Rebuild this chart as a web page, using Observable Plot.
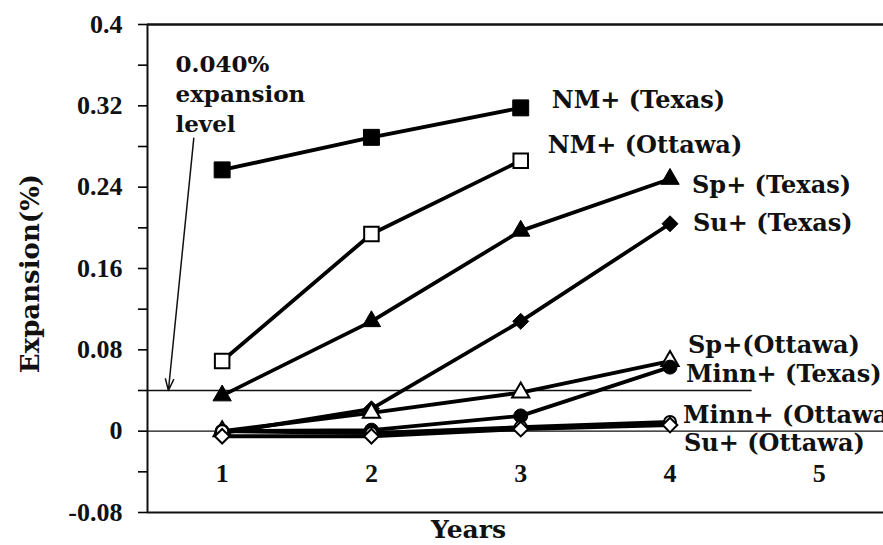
<!DOCTYPE html>
<html>
<head>
<meta charset="utf-8">
<script src="https://cdn.jsdelivr.net/npm/d3@7"></script>
<script src="https://cdn.jsdelivr.net/npm/@observablehq/plot@0.6"></script>
<style>
  html, body { margin: 0; padding: 0; background: #fff; overflow: hidden; }
</style>
</head>
<body>
<div id="chart"></div>
<script>
// Expansion (%) of concrete prisms over time, by aggregate and curing site
const years = [1, 2, 3, 4];
const nmTexas    = [0.257, 0.289, 0.318];
const nmOttawa   = [0.069, 0.194, 0.266];
const spTexas    = [0.035, 0.108, 0.197, 0.248];
const suTexas    = [-0.002, 0.022, 0.108, 0.204];
const spOttawa   = [0.000, 0.018, 0.038, 0.069];
const minnTexas  = [0.000, 0.001, 0.015, 0.063];
const minnOttawa = [0.000, -0.002, 0.004, 0.009];
const suOttawa   = [-0.005, -0.005, 0.002, 0.006];

const seriesNames = [
  "NM+ (Texas)", "NM+ (Ottawa)", "Sp+ (Texas)", "Su+ (Texas)",
  "Sp+(Ottawa)", "Minn+ (Texas)", "Minn+ (Ottawa)", "Su+ (Ottawa)"
];
const seriesValues = [nmTexas, nmOttawa, spTexas, suTexas, spOttawa, minnTexas, minnOttawa, suOttawa];

const yTicks = [-0.08, 0, 0.08, 0.16, 0.24, 0.32, 0.4];
const yTickLabels = ["-0.08", "0", "0.08", "0.16", "0.24", "0.32", "0.4"];
const yMinorTicks = [-0.04, 0.04, 0.12, 0.2, 0.28, 0.36];
const xTicks = [1, 2, 3, 4, 5];
const xTickLabels = ["1", "2", "3", "4", "5"];
const limit = 0.04; // 0.040% expansion criterion
const limitText = "0.040%\nexpansion\nlevel";

// marker style per series
const markerStyle = {
  "NM+ (Texas)":    {symbol: "square",   open: false, r: 9},
  "NM+ (Ottawa)":   {symbol: "square",   open: true,  r: 8.2},
  "Sp+ (Texas)":    {symbol: "triangle", open: false, r: 6.8},
  "Su+ (Texas)":    {symbol: "diamond2", open: false, r: 7.2},
  "Sp+(Ottawa)":    {symbol: "triangle", open: true,  r: 6.4},
  "Minn+ (Texas)":  {symbol: "circle",   open: false, r: 7},
  "Minn+ (Ottawa)": {symbol: "circle",   open: true,  r: 6},
  "Su+ (Ottawa)":   {symbol: "diamond2", open: true,  r: 6.6}
};
// label nudges (px) from each series' last point
const labelNudge = {
  "NM+ (Texas)":    [31, -8],
  "NM+ (Ottawa)":   [27, -15],
  "Sp+ (Texas)":    [22, 6],
  "Su+ (Texas)":    [23, 0],
  "Sp+(Ottawa)":    [18, -16],
  "Minn+ (Texas)":  [16, 7],
  "Minn+ (Ottawa)": [13, -7],
  "Su+ (Ottawa)":   [14, 18]
};

const rows = seriesNames.flatMap((name, i) =>
  seriesValues[i].map((v, j) => ({series: name, year: years[j], value: v}))
);
const lastRows = seriesNames.map((name, i) => {
  const vals = seriesValues[i];
  return {series: name, year: years[vals.length - 1], value: vals[vals.length - 1]};
});

const serif = "DejaVu Serif";
const tickFont = "Liberation Serif";

const marks = [
  // frame lines
  Plot.ruleY([0.4], {stroke: "#111", strokeWidth: 2.5}),
  Plot.ruleY([-0.08], {stroke: "#111", strokeWidth: 2}),
  Plot.ruleX([0.5], {stroke: "#111", strokeWidth: 2}),
  Plot.ruleY([0], {stroke: "#111", strokeWidth: 1.3}),
  Plot.ruleY([limit], {x1: 0.5, x2: 4.55, stroke: "#111", strokeWidth: 1.3}),
  // axes
  Plot.axisY({
    ticks: yTicks, tickSize: 9, tickPadding: 16, strokeWidth: 1.6,
    tickFormat: (d) => yTickLabels[yTicks.indexOf(d)],
    fontFamily: tickFont, fontWeight: "bold", fontSize: 26, fill: "#111", label: null
  }),
  Plot.axisY({ticks: yMinorTicks, tickSize: 9, text: null, strokeWidth: 1.6, label: null}),
  Plot.axisX({
    ticks: xTicks, tickSize: 0, tickPadding: 0, dy: -49,
    tickFormat: (d) => xTickLabels[xTicks.indexOf(d)],
    fontFamily: tickFont, fontWeight: "bold", fontSize: 26, fill: "#111", label: null
  }),
  // series lines
  Plot.line(rows, {x: "year", y: "value", z: "series", stroke: "#000", strokeWidth: 3.8}),
  // markers
  ...seriesNames.map((name) => {
    const s = markerStyle[name];
    return Plot.dot(rows.filter((d) => d.series === name), {
      x: "year", y: "value", symbol: () => s.symbol, r: s.r,
      fill: s.open ? "#fff" : "#000", stroke: "#000", strokeWidth: s.open ? 2 : 1
    });
  }),
  // series labels
  ...lastRows.map((d) => Plot.text([d], {
    x: "year", y: "value", text: "series", textAnchor: "start",
    dx: labelNudge[d.series][0], dy: labelNudge[d.series][1],
    fontFamily: serif, fontWeight: "bold", fontSize: 24, fill: "#111"
  })),
  // 0.040% annotation
  Plot.text([limitText], {
    frameAnchor: "top-left", dx: 28, dy: 26, lineAnchor: "top", textAnchor: "start",
    lineHeight: 1.3, fontFamily: serif, fontWeight: "bold", fontSize: 23, fill: "#111"
  }),
  Plot.arrow([{x1: 0.81, y1: 0.288, x2: 0.64, y2: limit}], {
    x1: "x1", y1: "y1", x2: "x2", y2: "y2", stroke: "#111", strokeWidth: 1.5,
    headLength: 12, headAngle: 40
  }),
  // axis titles
  Plot.text(["Expansion(%)"], {
    frameAnchor: "left", rotate: -90, dx: -117, dy: 5,
    textAnchor: "middle", lineAnchor: "middle",
    fontFamily: serif, fontWeight: "bold", fontSize: 26, fill: "#111",
    letterSpacing: 4
  }),
  Plot.text(["Years"], {
    frameAnchor: "bottom", dy: 17, dx: -47,
    textAnchor: "middle", lineAnchor: "middle",
    fontFamily: serif, fontWeight: "bold", fontSize: 25, fill: "#111"
  })
];

const chart = Plot.plot({
  width: 883,
  height: 545,
  marginLeft: 147,
  marginRight: 0,
  marginTop: 24,
  marginBottom: 33,
  x: {domain: [0.5, 5.43]},
  y: {domain: [-0.08, 0.4]},
  style: {background: "#fff", overflow: "visible"},
  marks
});
document.getElementById("chart").append(chart);
</script>
</body>
</html>
